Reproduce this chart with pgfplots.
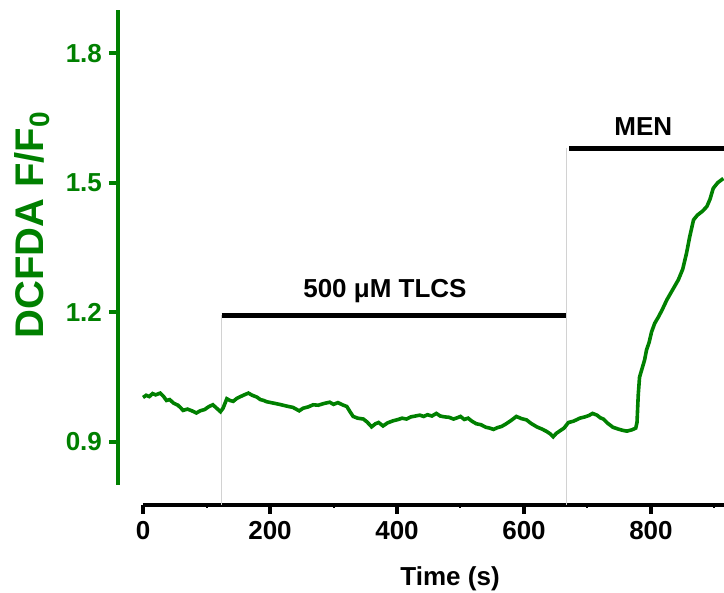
\documentclass[border=0pt]{standalone}
\usepackage{pgfplots}
\pgfplotsset{compat=1.18}
\usepackage{fontspec}
\setmainfont{Liberation Sans}
\definecolor{dcf}{RGB}{0,128,0}
\definecolor{guide}{RGB}{210,210,210}

\begin{document}
\begin{tikzpicture}
\begin{axis}[
  scale only axis, width=303pt, height=247.5pt,
  xmin=-39.4, xmax=915, ymin=0.754, ymax=1.9,
  axis x line*=bottom, axis y line*=left,
  x axis line style={black, line width=2pt, shorten <=12.5pt},
  y axis line style={dcf, line width=2pt, shorten <=10pt},
  xtick={0,200,...,800}, ytick={0.9,1.2,1.5,1.8},
  minor xtick={100,300,500,700,900},
  /pgf/number format/assume math mode=true,
  tick align=outside, major tick length=4.5pt, minor tick length=1.5pt,
  x tick style={black, line width=2pt},
  minor x tick style={black, line width=1pt},
  y tick style={dcf, line width=2pt},
  ticklabel style={font=\fontsize{13}{15}\selectfont\bfseries},
  yticklabel style={dcf, /pgf/number format/fixed, /pgf/number format/fixed zerofill, /pgf/number format/precision=1},
  xlabel={Time (s)}, ylabel={DCFDA F/F\textsubscript{0}},
  xlabel style={font=\fontsize{13}{15}\selectfont\bfseries, at={(axis description cs:0.548,-0.150)}, anchor=center},
  ylabel style={font=\fontsize{20}{23}\selectfont\bfseries, dcf, at={(axis description cs:-0.142,0.566)}, anchor=center},
  clip=false,
]
% stimulus guide lines
\addplot[guide, line width=0.6pt] coordinates {(124,0.754)(124,1.193)};
\addplot[guide, line width=0.6pt] coordinates {(667,0.754)(667,1.58)};
% stimulus bars
\addplot[black, line width=2.4pt] coordinates {(124,1.193)(666,1.193)};
\addplot[black, line width=2.4pt] coordinates {(671,1.58)(915,1.58)};
\node[font=\fontsize{13}{15}\selectfont\bfseries] at (axis cs:381,1.25) {500 μM TLCS};
\node[font=\fontsize{13}{15}\selectfont\bfseries] at (axis cs:788,1.63) {MEN};
% DCFDA trace
\addplot[dcf, line width=1.8pt] coordinates {
(0,1.003)(5,1.008)(10,1.005)(15,1.012)(20,1.009)(27,1.013)(32,1.006)(37,0.996)(42,0.998)(48,0.990)
(55,0.985)(60,0.978)(63,0.973)(70,0.976)(77,0.972)(84,0.967)(90,0.972)(97,0.975)(104,0.982)(110,0.986)
(116,0.978)(122,0.970)(126,0.978)(132,1.000)(137,0.996)(142,0.994)(148,1.001)(155,1.006)(161,1.010)(166,1.013)
(172,1.008)(179,1.004)(185,0.998)(190,0.996)(195,0.993)(205,0.990)(215,0.987)(226,0.983)(236,0.980)(246,0.972)
(252,0.978)(260,0.981)(268,0.986)(276,0.985)(285,0.989)(294,0.992)(300,0.987)(307,0.991)(314,0.986)(321,0.982)
(326,0.970)(331,0.959)(338,0.955)(347,0.953)(353,0.946)(360,0.935)(366,0.942)(371,0.945)(378,0.937)(385,0.944)
(394,0.949)(402,0.952)(408,0.955)(415,0.953)(422,0.958)(429,0.960)(436,0.962)(442,0.959)(448,0.963)(455,0.960)
(462,0.966)(468,0.960)(475,0.958)(482,0.957)(489,0.953)(495,0.956)(500,0.959)(506,0.952)(512,0.955)(518,0.948)
(525,0.942)(532,0.940)(540,0.934)(546,0.932)(552,0.929)(558,0.933)(565,0.936)(573,0.943)(580,0.950)(588,0.959)
(596,0.954)(604,0.951)(611,0.943)(620,0.935)(628,0.930)(636,0.924)(641,0.919)(646,0.912)(651,0.920)(657,0.926)
(663,0.932)(670,0.945)(678,0.948)(688,0.955)(696,0.958)(702,0.961)(708,0.966)(715,0.962)(720,0.956)(725,0.953)
(732,0.943)(740,0.934)(748,0.930)(755,0.927)(762,0.925)(770,0.928)(776,0.932)(778,0.945)(780,1.010)(782,1.050)
(786,1.070)(790,1.090)(793,1.113)(797,1.130)(801,1.155)(806,1.175)(812,1.190)(818,1.207)(825,1.229)(834,1.252)
(843,1.275)(850,1.300)(856,1.337)(861,1.375)(867,1.414)(873,1.425)(881,1.434)(888,1.445)(893,1.462)(898,1.487)
(905,1.500)(914,1.510)};
\end{axis}
\pgfresetboundingbox
\path[use as bounding box] (current axis.south west) ++(-59pt,-44pt) rectangle ++(362pt,296.5pt);
\end{tikzpicture}
\end{document}
